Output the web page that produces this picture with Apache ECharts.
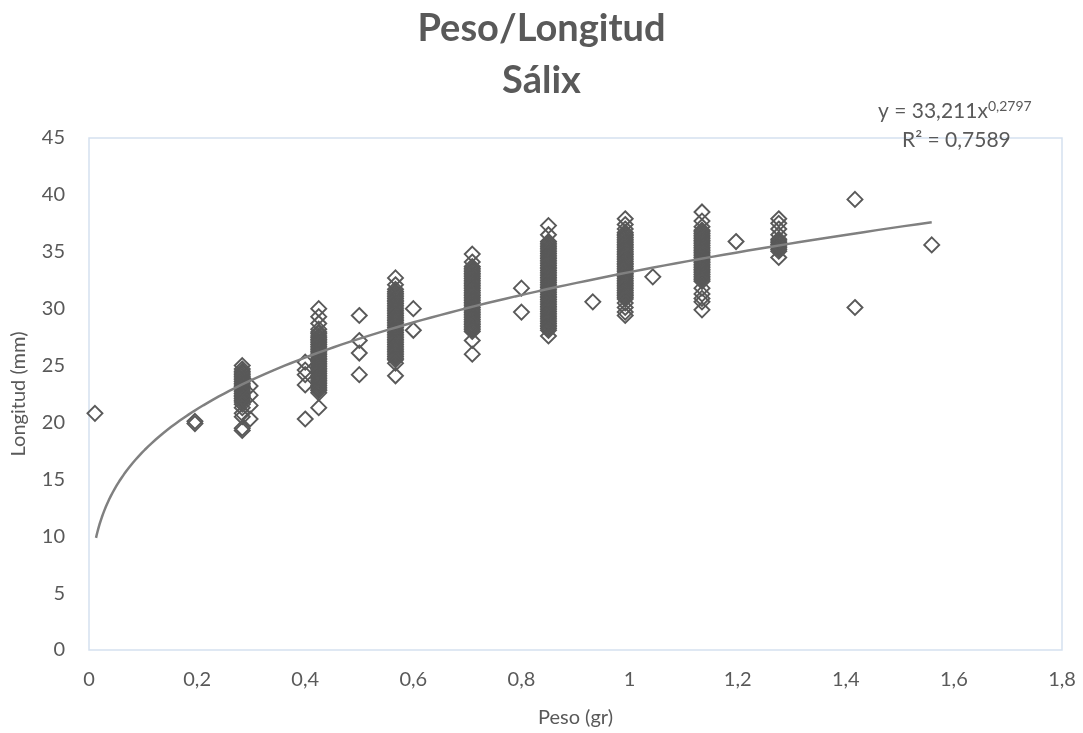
<!DOCTYPE html>
<html>
<head>
<meta charset="utf-8">
<script src="https://cdn.jsdelivr.net/npm/echarts@6/dist/echarts.min.js"></script>
<style>
html,body{margin:0;padding:0;background:#fff;}
#chart{width:1083px;height:733px;}
</style>
</head>
<body>
<div id="chart"></div>
<script>
// ---- Data ----
// Weight groups (gr) and the lengths (mm) observed at each
const xGroups = [0.011, 0.196, 0.2835, 0.298, 0.40, 0.425, 0.50, 0.567, 0.60, 0.709, 0.80, 0.850, 0.932, 0.992, 1.043, 1.134, 1.197, 1.276, 1.417, 1.559];
const g0011 = [20.8];
const g0196 = [20.1, 19.9];
const g0283 = [25.0, 24.7, 24.5, 24.35, 24.2, 24.05, 23.9, 23.75, 23.6, 23.45, 23.3, 23.15, 23.0, 22.85, 22.7, 22.55, 22.4, 22.25, 22.1, 21.95, 21.8, 21.6, 21.3, 20.8, 20.5, 19.5, 19.3];
const g0298 = [23.2, 22.4, 21.5, 20.3];
const g0400 = [25.3, 24.6, 24.2, 23.3, 20.3];
const g0425 = [30.0, 29.3, 28.7, 28.2, 27.95, 27.8, 27.6, 27.45, 27.3, 27.15, 27.0, 26.85, 26.7, 26.55, 26.4, 26.25, 26.1, 25.95, 25.8, 25.65, 25.5, 25.35, 25.2, 25.05, 24.9, 24.75, 24.6, 24.45, 24.3, 24.15, 24.0, 23.85, 23.7, 23.55, 23.4, 23.25, 23.1, 22.95, 22.8, 22.6, 21.3];
const g0500 = [29.4, 27.2, 26.1, 24.2];
const g0567 = [32.7, 32.1, 31.7, 31.5, 31.35, 31.2, 31.05, 30.9, 30.75, 30.6, 30.45, 30.3, 30.15, 30.0, 29.85, 29.7, 29.55, 29.4, 29.25, 29.1, 28.95, 28.8, 28.65, 28.5, 28.35, 28.2, 28.05, 27.9, 27.75, 27.6, 27.45, 27.3, 27.15, 27.0, 26.85, 26.7, 26.55, 26.4, 26.25, 26.1, 25.95, 25.8, 25.65, 25.5, 25.2, 24.1];
const g0600 = [30.0, 28.1];
const g0709 = [34.8, 34.1, 33.7, 33.55, 33.4, 33.25, 33.1, 32.95, 32.8, 32.65, 32.5, 32.35, 32.2, 32.05, 31.9, 31.75, 31.6, 31.45, 31.3, 31.15, 31.0, 30.85, 30.7, 30.55, 30.4, 30.25, 30.1, 29.95, 29.8, 29.65, 29.5, 29.35, 29.2, 29.05, 28.9, 28.75, 28.6, 28.45, 28.3, 28.15, 28.0, 27.2, 26.0];
const g0800 = [31.8, 29.7];
const g0850 = [37.3, 36.5, 35.9, 35.75, 35.6, 35.45, 35.3, 35.15, 35.0, 34.85, 34.7, 34.55, 34.4, 34.25, 34.1, 33.95, 33.8, 33.65, 33.5, 33.35, 33.2, 33.05, 32.9, 32.75, 32.6, 32.45, 32.3, 32.15, 32.0, 31.85, 31.7, 31.55, 31.4, 31.25, 31.1, 30.95, 30.8, 30.65, 30.5, 30.35, 30.2, 30.05, 29.9, 29.75, 29.6, 29.45, 29.3, 29.15, 29.0, 28.85, 28.7, 28.55, 28.4, 28.25, 28.1, 27.6];
const g0932 = [30.6];
const g0992 = [37.9, 37.4, 37.0, 36.7, 36.55, 36.4, 36.25, 36.1, 35.95, 35.8, 35.65, 35.5, 35.35, 35.2, 35.05, 34.9, 34.75, 34.6, 34.45, 34.3, 34.15, 34.0, 33.85, 33.7, 33.55, 33.4, 33.25, 33.1, 32.95, 32.8, 32.65, 32.5, 32.35, 32.2, 32.05, 31.9, 31.75, 31.6, 31.45, 31.3, 31.15, 31.0, 30.85, 30.5, 30.1, 29.7, 29.4];
const g1043 = [32.8];
const g1134 = [38.5, 37.7, 37.2, 36.9, 36.75, 36.6, 36.45, 36.3, 36.15, 36.0, 35.85, 35.7, 35.55, 35.4, 35.25, 35.1, 34.95, 34.8, 34.65, 34.5, 34.35, 34.2, 34.05, 33.9, 33.75, 33.6, 33.45, 33.3, 33.15, 33.0, 32.85, 32.7, 32.55, 32.4, 31.8, 31.3, 30.9, 30.6, 29.9];
const g1197 = [35.9];
const g1276 = [37.9, 37.5, 37.0, 36.5, 36.1, 35.95, 35.8, 35.65, 35.5, 35.35, 35.2, 35.05, 34.5];
const g1417 = [39.6, 30.1];
const g1559 = [35.6];
const yGroups = [g0011, g0196, g0283, g0298, g0400, g0425, g0500, g0567, g0600, g0709, g0800, g0850, g0932, g0992, g1043, g1134, g1197, g1276, g1417, g1559];

// Trendline as printed on the chart: y = 33,211 x^0,2797 (drawn from x=0.013 to 1.56)
const trendA = 33.211;
const trendB = 0.2797;
const trendXStart = 0.013;
const trendXEnd = 1.559;

const xTickLabels = ['0', '0,2', '0,4', '0,6', '0,8', '1', '1,2', '1,4', '1,6', '1,8'];
const yTickLabels = ['0', '5', '10', '15', '20', '25', '30', '35', '40', '45'];

// ---- Build series ----
const scatterData = [];
xGroups.forEach((x, i) => yGroups[i].forEach(y => scatterData.push([x, y])));

const trendData = [];
const steps = 120;
for (let i = 0; i <= steps; i++) {
  const x = trendXStart + (trendXEnd - trendXStart) * Math.pow(i / steps, 2);
  trendData.push([x, trendA * Math.pow(x, trendB)]);
}

const txt = '#595959';
const font = 'Lato, "Open Sans", "Noto Sans", sans-serif';

const chart = echarts.init(document.getElementById('chart'), null, {renderer: 'canvas'});
chart.setOption({
  animation: false,
  backgroundColor: '#ffffff',
  title: {
    text: 'Peso/Longitud\nSálix',
    left: 'center',
    top: -2,
    textStyle: {fontFamily: font, fontWeight: 'bold', fontSize: 38, color: txt, lineHeight: 52}
  },
  grid: {left: 89, right: 21, top: 138, bottom: 83, show: true, borderColor: '#d5e1ef', borderWidth: 1.5, backgroundColor: 'transparent'},
  xAxis: {
    type: 'value', min: 0, max: 1.8, interval: 0.2,
    name: 'Peso (gr)', nameLocation: 'middle', nameGap: 58,
    nameTextStyle: {fontFamily: font, fontSize: 20, color: txt},
    axisLine: {show: false}, axisTick: {show: false}, splitLine: {show: false},
    axisLabel: {margin: 20, fontFamily: font, fontSize: 20, color: txt,
      formatter: v => xTickLabels[Math.round(v / 0.2)]}
  },
  yAxis: {
    type: 'value', min: 0, max: 45, interval: 5,
    name: 'Longitud (mm)', nameLocation: 'middle', nameGap: 60, nameRotate: 90,
    nameTextStyle: {fontFamily: font, fontSize: 20, color: txt},
    axisLine: {show: false}, axisTick: {show: false}, splitLine: {show: false},
    axisLabel: {margin: 24, fontFamily: font, fontSize: 20, color: txt,
      formatter: v => yTickLabels[Math.round(v / 5)]}
  },
  series: [
    {
      type: 'scatter', data: scatterData, symbol: 'diamond', symbolSize: 15,
      itemStyle: {color: 'rgba(0,0,0,0)', borderColor: '#595959', borderWidth: 1.9, opacity: 1},
      emphasis: {disabled: true}, z: 2
    },
    {
      type: 'line', data: trendData, showSymbol: false, smooth: false,
      lineStyle: {color: '#808080', width: 2.5}, z: 3
    }
  ],
  graphic: [
    {
      type: 'text', left: 878, top: 99,
      style: {
        text: '{a|y = 33,211x}{s|0,2797}',
        fill: txt,
        rich: {
          a: {fontFamily: font, fontSize: 21, fill: txt, color: txt},
          s: {fontFamily: font, fontSize: 14, fill: txt, color: txt, verticalAlign: 'top', padding: [0, 0, 10, 0]}
        }
      }
    },
    {
      type: 'text', left: 902, top: 130,
      style: {text: 'R² = 0,7589', font: '21px ' + font, fill: txt}
    }
  ]
});
</script>
</body>
</html>
